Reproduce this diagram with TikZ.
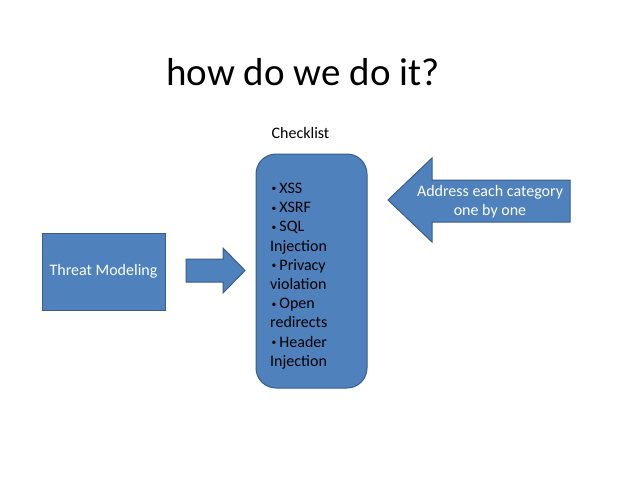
\documentclass[tikz,border=0pt]{standalone}
\usepackage{fontspec}
\setmainfont{Carlito}
\usetikzlibrary{positioning}
\definecolor{SlideBlue}{HTML}{4F81BD}
\definecolor{SlideEdge}{HTML}{385D8A}
\newcommand{\listdot}{\hspace{1.5pt}\raisebox{1.6pt}{\scalebox{0.6}{\textbullet}}\hspace{3pt}}

\begin{document}
\begin{tikzpicture}[x=1pt, y=-1pt, every node/.style={font=\fontsize{16}{19.2}\selectfont}]
    \tikzset{blockshape/.style={fill=SlideBlue, draw=SlideEdge, line width=1pt}}
    \useasboundingbox (0,0) rectangle (638,479);

    % Title
    \node[font=\fontsize{39}{47}\selectfont, anchor=base] (title) at (303,85) {how do we do it?};

    % Threat modeling box
    \node[blockshape, text=white, minimum width=123pt, minimum height=77pt] (threat) at (103.5,271.5) {Threat Modeling};

    % Checklist box
    \node[blockshape, rounded corners=20pt, minimum width=111pt, minimum height=234pt] (checklist) at (311.5,271) {};
    \node (checktitle) at (300.5,133) {Checklist};
    \node[anchor=north west, inner sep=0pt, align=left] (items) at (270,183)
        {\listdot XSS\\\listdot XSRF\\\listdot SQL\\Injection\\\listdot Privacy\\violation\\\listdot Open\\redirects\\\listdot Header\\Injection};

    % Arrow into the checklist
    \draw[blockshape] (186,259) -- (223,259) -- (223,248) -- (245,270.5) -- (223,293) -- (223,282) -- (186,282) -- cycle;

    % Arrow back to the checklist
    \draw[blockshape] (570,180) -- (432,180) -- (432,158) -- (388,200) -- (432,242) -- (432,222) -- (570,222) -- cycle;
    \node[text=white, align=center] (address) at (490,202) {Address each category\\one by one};
\end{tikzpicture}
\end{document}
